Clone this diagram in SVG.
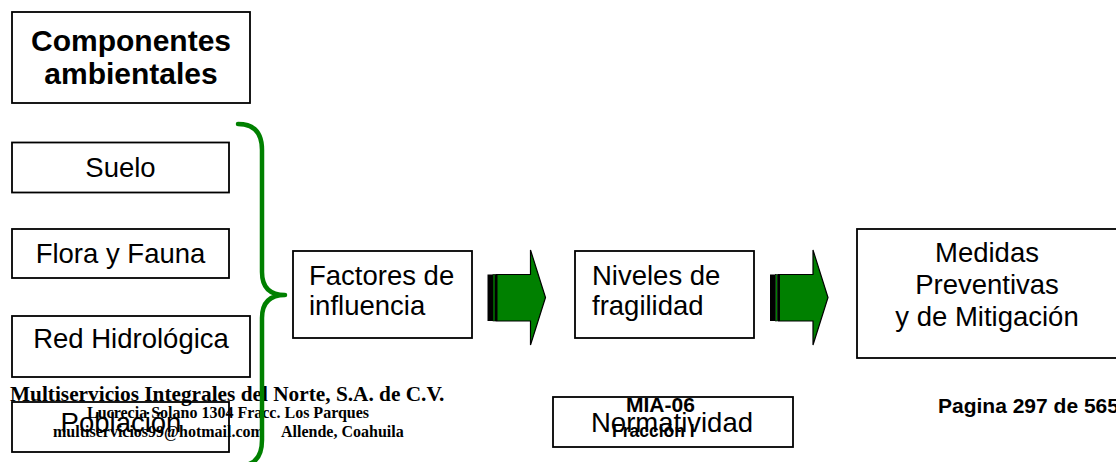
<svg xmlns="http://www.w3.org/2000/svg" width="1116" height="462" viewBox="0 0 1116 462">
<defs>
<style>
.box{fill:#fff;stroke:#000;stroke-width:1.8}
.t{font-family:"Liberation Sans",Arial,sans-serif;font-size:27.5px;fill:#000}
.tc{text-anchor:middle}
.hb{font-family:"Liberation Sans",Arial,sans-serif;font-weight:bold;fill:#000}
.ft{font-family:"Liberation Serif","Times New Roman",serif;font-weight:bold;fill:#000}
</style>
<g id="striped-arrow">
<rect x="0" y="274.5" width="5.5" height="46.5" fill="#000"/>
<rect x="5.5" y="274.5" width="2" height="46.5" fill="#008000" stroke="#000" stroke-width="0.6"/>
<polygon points="8.5,274.5 43,274.5 43,250 58,297.5 43,345 43,321 8.5,321" fill="#008000" stroke="#000" stroke-width="1.2"/>
<rect x="7.5" y="274.5" width="2.5" height="46.5" fill="#000"/>
</g>
</defs>
<rect width="1116" height="462" fill="#fff"/>

<g id="componentes">
<rect class="box" x="12" y="12" width="238" height="91"/>
<text class="hb tc" x="131" y="51" font-size="30">Componentes</text>
<text class="hb tc" x="131" y="84" font-size="30">ambientales</text>
</g>
<g id="suelo">
<rect class="box" x="12" y="142.5" width="217" height="50"/>
<text class="t tc" x="120.5" y="177">Suelo</text>
</g>
<g id="flora">
<rect class="box" x="12" y="229" width="217" height="49"/>
<text class="t tc" x="120.5" y="263">Flora y Fauna</text>
</g>
<g id="red">
<rect class="box" x="12" y="316" width="238" height="61"/>
<text class="t tc" x="131" y="348">Red Hidrológica</text>
</g>
<g id="poblacion">
<rect class="box" x="12" y="402" width="217" height="50"/>
<text class="t tc" x="121" y="432">Población</text>
</g>
<g id="factores">
<rect class="box" x="293" y="251" width="179" height="87"/>
<text class="t" x="309" y="285">Factores de</text>
<text class="t" x="309" y="315">influencia</text>
</g>
<g id="niveles">
<rect class="box" x="575" y="251" width="179" height="87"/>
<text class="t" x="592" y="285">Niveles de</text>
<text class="t" x="592" y="315">fragilidad</text>
</g>
<g id="medidas">
<rect class="box" x="857" y="229" width="270" height="129"/>
<text class="t tc" x="987" y="262" font-size="28">Medidas</text>
<text class="t tc" x="987" y="294" font-size="28">Preventivas</text>
<text class="t tc" x="987" y="326" font-size="28">y de Mitigación</text>
</g>
<g id="normatividad">
<rect class="box" x="553" y="397" width="240" height="50"/>
<text class="t tc" x="672" y="432">Normatividad</text>
</g>

<g id="footer">
<text class="ft" x="10" y="401" font-size="21.3">Multiservicios Integrales del Norte, S.A. de C.V.</text>
<text class="ft" x="87" y="418" font-size="16">Lucrecia Solano 1304 Fracc. Los Parques</text>
<text class="ft" font-size="16" y="437"><tspan x="53">multiservicios99@hotmail.com</tspan><tspan x="281">Allende, Coahuila</tspan></text>
<text class="hb" x="626" y="412" font-size="21">MIA-06</text>
<text class="hb" x="612" y="437" font-size="17.5">Fracción I</text>
<text class="hb" x="938" y="413" font-size="21">Pagina 297 de 565</text>
</g>

<g id="connectors">
<path d="M238,124 Q262,124 262,150 L262,272 Q262,295 285,295 Q262,295 262,318 L262,440 Q262,466 238,466" fill="none" stroke="#008000" stroke-width="4.5" stroke-linecap="round" stroke-linejoin="round"/>
<use href="#striped-arrow" transform="translate(487.5,0)"/>
<use href="#striped-arrow" transform="translate(770,0)"/>
</g>
</svg>
